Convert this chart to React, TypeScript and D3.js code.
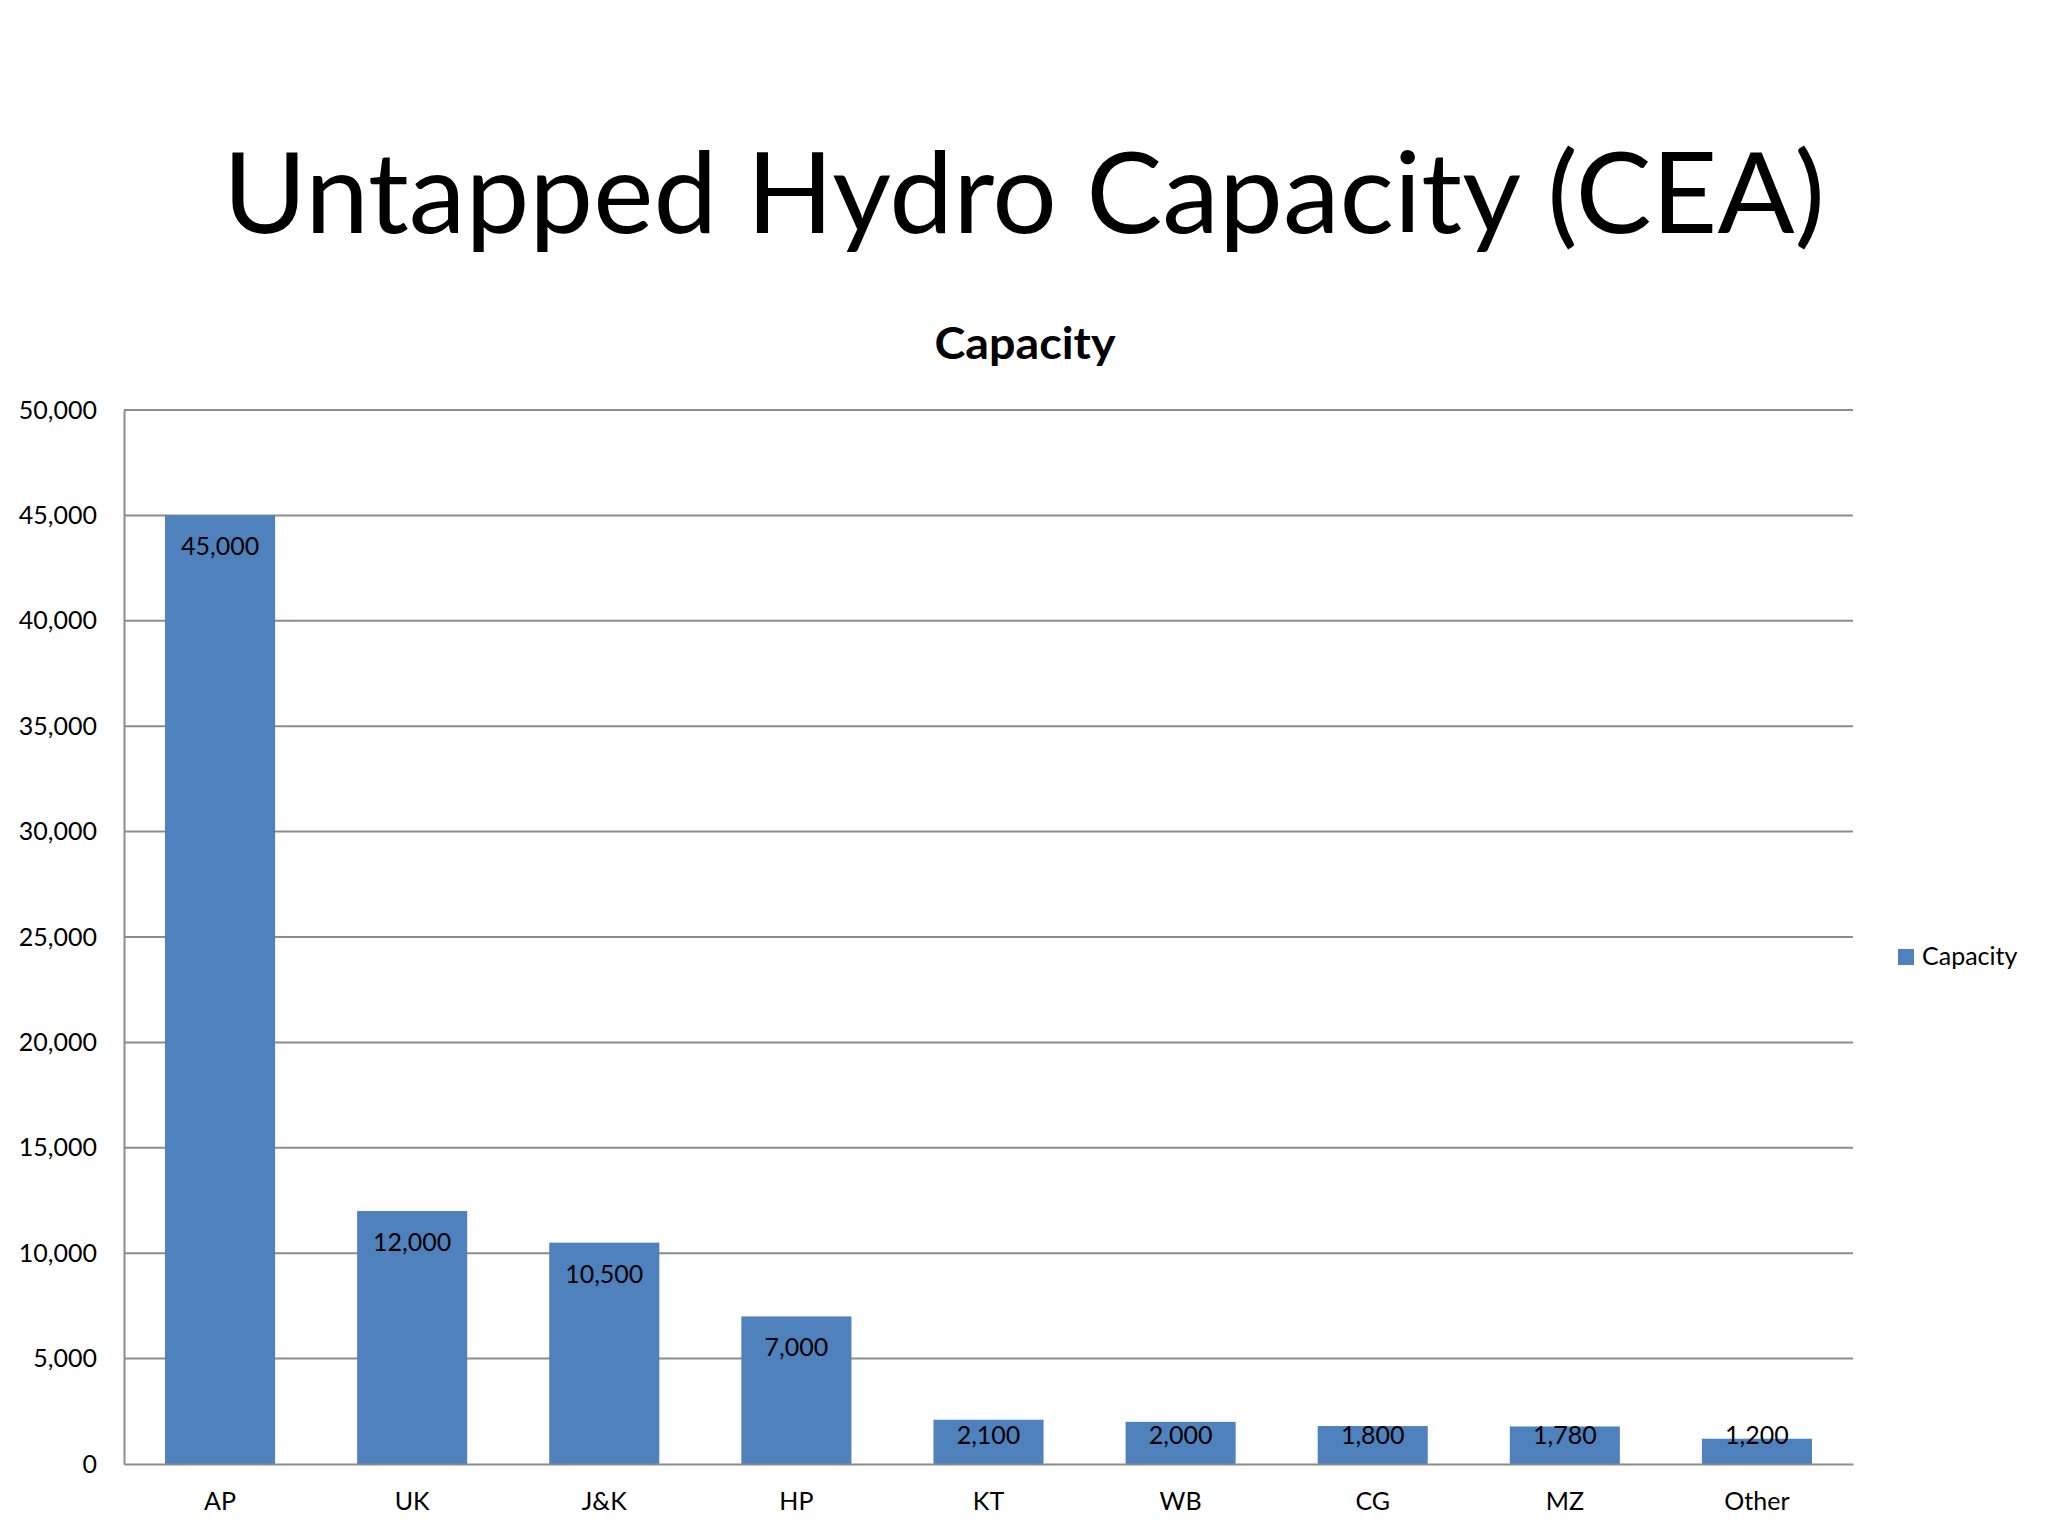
import { useEffect, useRef } from "react";
import * as d3 from "d3";

const categories = ["AP", "UK", "J&K", "HP", "KT", "WB", "CG", "MZ", "Other"];
const capacity = [45000, 12000, 10500, 7000, 2100, 2000, 1800, 1780, 1200];
const yTicks = [0, 5000, 10000, 15000, 20000, 25000, 30000, 35000, 40000, 45000, 50000];

const W = 2048;
const H = 1536;
const FONT = "Lato, 'Noto Sans', sans-serif";
const BLUE = "#4F81BD";
const GRID = "#8c8c8c";

const App = () => {
  const svgRef = useRef<SVGSVGElement>(null);

  useEffect(() => {
    const svg = d3.select(svgRef.current);
    svg.selectAll("*").remove();

    const plot = { left: 124, right: 1853, top: 410, bottom: 1464 };

    const x = d3
      .scaleBand()
      .domain(categories)
      .range([plot.left, plot.right])
      .paddingInner(0.427)
      .paddingOuter(0.2135);
    const y = d3.scaleLinear().domain([0, 50000]).range([plot.bottom, plot.top]);
    const fmt = d3.format(",");

    // slide title
    svg
      .append("text")
      .attr("x", W / 2)
      .attr("y", 233)
      .attr("text-anchor", "middle")
      .attr("font-family", FONT)
      .attr("font-size", 113)
      .attr("textLength", 1602)
      .attr("lengthAdjust", "spacingAndGlyphs")
      .attr("fill", "#000")
      .text("Untapped Hydro Capacity (CEA)");

    // chart title
    svg
      .append("text")
      .attr("x", 1025)
      .attr("y", 359)
      .attr("text-anchor", "middle")
      .attr("font-family", FONT)
      .attr("font-weight", "bold")
      .attr("font-size", 43)
      .attr("textLength", 181)
      .attr("lengthAdjust", "spacingAndGlyphs")
      .attr("fill", "#000")
      .text("Capacity");

    // gridlines
    svg
      .append("g")
      .selectAll("line")
      .data(yTicks.filter((t) => t > 0))
      .join("line")
      .attr("x1", plot.left)
      .attr("x2", plot.right)
      .attr("y1", (d) => y(d))
      .attr("y2", (d) => y(d))
      .attr("stroke", GRID)
      .attr("stroke-width", 2);

    // y axis, no tick marks
    const yAxis = d3.axisLeft(y).tickValues(yTicks).tickSize(0).tickPadding(27).tickFormat((d) => fmt(d as number));
    const gy = svg.append("g").attr("transform", `translate(${plot.left},0)`).call(yAxis);
    gy.select(".domain").attr("stroke", GRID).attr("stroke-width", 2);
    gy.selectAll("text")
      .attr("font-family", FONT)
      .attr("font-size", 25)
      .attr("fill", "#000");

    // bars
    svg
      .append("g")
      .selectAll("rect")
      .data(capacity)
      .join("rect")
      .attr("x", (_, i) => x(categories[i])!)
      .attr("width", x.bandwidth())
      .attr("y", (d) => y(d))
      .attr("height", (d) => plot.bottom - y(d))
      .attr("fill", BLUE);

    // value labels (inside end)
    svg
      .append("g")
      .selectAll("text")
      .data(capacity)
      .join("text")
      .attr("x", (_, i) => x(categories[i])! + x.bandwidth() / 2)
      .attr("y", (d) => Math.min(y(d) + 40, plot.bottom - 20))
      .attr("text-anchor", "middle")
      .attr("font-family", FONT)
      .attr("font-size", 25)
      .attr("fill", "#000")
      .text((d) => fmt(d));

    // x axis
    const xAxis = d3.axisBottom(x).tickSize(0).tickPadding(28);
    const gx = svg.append("g").attr("transform", `translate(0,${plot.bottom})`).call(xAxis);
    gx.select(".domain").attr("stroke", GRID).attr("stroke-width", 2);
    gx.selectAll("text")
      .attr("font-family", FONT)
      .attr("font-size", 25)
      .attr("fill", "#000");

    // legend
    const legend = svg.append("g").attr("transform", "translate(1898,949)");
    legend.append("rect").attr("width", 16).attr("height", 16).attr("fill", BLUE);
    legend
      .append("text")
      .attr("x", 24)
      .attr("y", 16)
      .attr("font-family", FONT)
      .attr("font-size", 25)
      .attr("fill", "#000")
      .text("Capacity");
  }, []);

  return (
    <svg
      ref={svgRef}
      width={W}
      height={H}
      style={{ position: "absolute", left: 0, top: 0, background: "#fff" }}
    />
  );
};

export default App;
